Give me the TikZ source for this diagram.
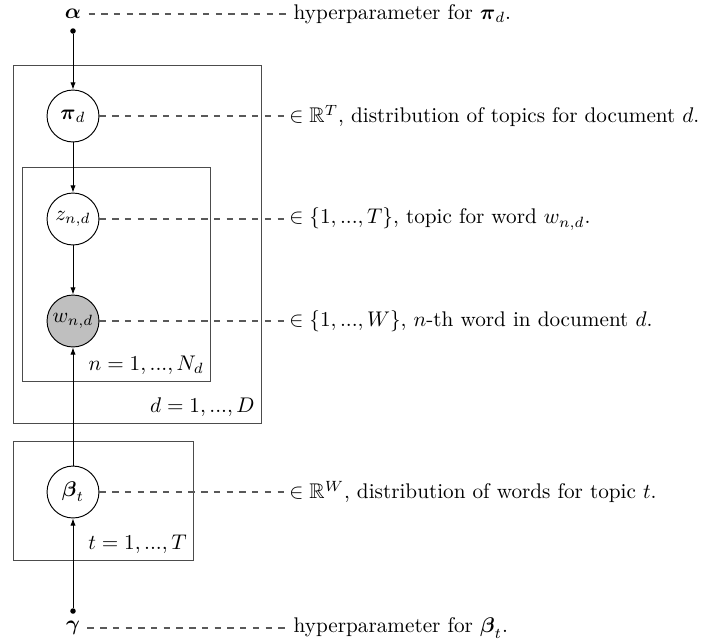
\documentclass[tikz,border=0pt]{standalone}
\usepackage{amsmath,amssymb}
\usetikzlibrary{arrows.meta,fit}
\begin{document}
\begin{tikzpicture}[x=0.4717pt,y=-0.4717pt,
  var/.style={circle,draw=black,line width=0.45pt,minimum size=24.5pt,inner sep=0pt},
  obs/.style={var,fill=black!25},
  plate/.style={draw=black!70,line width=0.45pt,inner sep=0pt},
  platelabel/.style={anchor=south east,inner sep=3pt},
  dotnode/.style={circle,fill=black,inner sep=0pt,minimum size=2.6pt},
  arr/.style={-{Latex[length=3.4pt,width=2.5pt]},line width=0.45pt},
  desc/.style={anchor=west,inner sep=0pt},
  hdesc/.style={anchor=west,inner sep=2pt},
  leader/.style={dashed,draw=black!65,line width=0.5pt}]
\useasboundingbox (0,0) rectangle (705,640);
% plates
\node[plate,fit={(13,65) (261,423)}] (D) {};
\node[plate,fit={(22,167) (210,381)}] (N) {};
\node[plate,fit={(13,441) (193,560)}] (T) {};
\node[platelabel] (Dl) at (D.south east) {$d=1,...,D$};
\node[platelabel] (Nl) at (N.south east) {$n=1,...,N_d$};
\node[platelabel] (Tl) at (T.south east) {$t=1,...,T$};
% variables
\node (alpha) at (73,14) {$\boldsymbol{\alpha}$};
\node[dotnode] (adot) at (73,31) {};
\node[var,fill=white] (pi) at (73,116) {$\boldsymbol{\pi}_d$};
\node[var,fill=white] (z) at (73,219) {$z_{n,d}$};
\node[obs] (w) at (73,321) {$w_{n,d}$};
\node[var,fill=white] (beta) at (73,492) {$\boldsymbol{\beta}_t$};
\node[dotnode] (gdot) at (73,611) {};
\node (gamma) at (73,628) {$\boldsymbol{\gamma}$};
% descriptions
\node[hdesc] (ta) at (289,14) {hyperparameter for $\boldsymbol{\pi}_d$.};
\node[desc] (tpi) at (289,116) {$\in\mathbb{R}^T$, distribution of topics for document $d$.};
\node[desc] (tz) at (289,219) {$\in\{1,...,T\}$, topic for word $w_{n,d}$.};
\node[desc] (tw) at (289,321) {$\in\{1,...,W\}$, $n$-th word in document $d$.};
\node[desc] (tb) at (289,492) {$\in\mathbb{R}^W$, distribution of words for topic $t$.};
\node[hdesc] (tg) at (289,628) {hyperparameter for $\boldsymbol{\beta}_t$.};
% arrows
\draw[arr] (adot) -- (pi);
\draw[arr] (pi) -- (z);
\draw[arr] (z) -- (w);
\draw[arr] (beta) -- (w);
\draw[arr] (gdot) -- (beta);
% leaders
\draw[leader] (alpha) -- (ta);
\draw[leader] (pi) -- (tpi);
\draw[leader] (z) -- (tz);
\draw[leader] (w) -- (tw);
\draw[leader] (beta) -- (tb);
\draw[leader] (gamma) -- (tg);
\end{tikzpicture}
\end{document}
